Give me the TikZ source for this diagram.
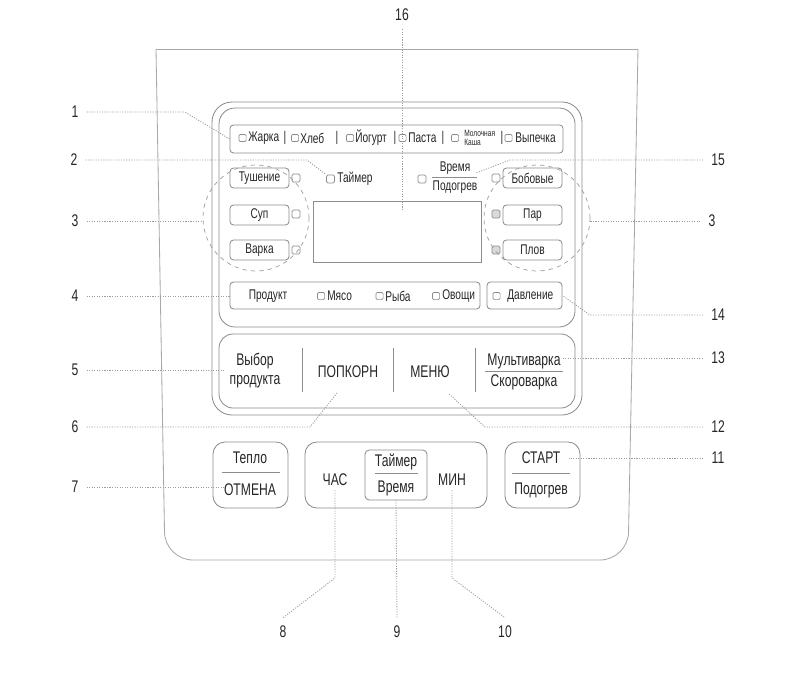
\documentclass[tikz,border=0pt]{standalone}
\usepackage{fontspec}
\setmainfont{Liberation Sans}[FakeStretch=0.72]
\usetikzlibrary{positioning}
\definecolor{panelgray}{HTML}{8C8C8C}
\definecolor{bodygray}{HTML}{A8A8A8}
\definecolor{leadgray}{HTML}{9C9C9C}
\definecolor{inkgray}{HTML}{262626}
\definecolor{ledgray}{HTML}{DADADA}

\begin{document}
\begin{tikzpicture}[x=0.025cm,y=-0.025cm,
	every node/.style={text=inkgray,font=\fontsize{10}{11}\selectfont},
	frame/.style={draw=panelgray,line width=0.6pt},
	btn/.style={frame,rectangle,rounded corners=2.5pt,inner sep=0pt,minimum width=1.475cm,minimum height=0.5cm},
	bigbtn/.style={frame,rectangle,rounded corners=0.3cm,inner sep=0pt,minimum width=1.875cm,minimum height=1.65cm},
	led/.style={draw=panelgray,line width=0.5pt,rectangle,rounded corners=1pt,inner sep=0pt,minimum size=0.2cm},
	ledon/.style={led,fill=ledgray},
	tick/.style={led,minimum size=0.18cm},
	lbl/.style={anchor=west,inner sep=0pt},
	big/.style={font=\fontsize{12}{13}\selectfont,inner sep=0pt},
	rule/.style={draw=panelgray,line width=0.6pt},
	num/.style={font=\fontsize{12}{14}\selectfont,inner sep=2mm},
	lead/.style={draw=leadgray,line width=0.6pt,dash pattern=on 0.8pt off 1pt}]
\useasboundingbox (0,0) rectangle (802,683);

% body of the cooker
\draw[draw=bodygray,line width=0.6pt] (156,49) -- (638,49);
\draw[draw=bodygray,line width=0.6pt,rounded corners=0.7cm] (156,49) -- (165,560) -- (628,560) -- (638,49);

% control panel
\draw[frame,rounded corners=0.5cm] (212,102) rectangle (582,415);
\draw[frame,rounded corners=0.4cm] (219,108) rectangle (575,327);
\draw[frame,rounded corners=0.35cm] (219,334) rectangle (575,408);

% programme row
\node[btn,minimum width=8.325cm,minimum height=0.7cm] (row1) at (396.5,139) {};
\node[tick] (kZh) at (242.5,138) {};  \node[lbl] (tZh) at (248,138) {Жарка};
\node (s1) at (285,138) {|};
\node[tick] (kKh) at (295,138) {};    \node[lbl] (tKh) at (300,138) {Хлеб};
\node (s2) at (337,138) {|};
\node[tick] (kYo) at (350,138) {};    \node[lbl] (tYo) at (355,138) {Йогурт};
\node (s3) at (395,138) {|};
\node[tick] (kPa) at (402.5,138) {};  \node[lbl] (tPa) at (408,138) {Паста};
\node (s4) at (443,138) {|};
\node[tick] (kMk) at (455,138) {};
\node[lbl,align=left,font=\fontsize{6.5}{6.5}\selectfont] (tMk) at (464,138) {Молочная\\Каша};
\node (s5) at (502,138) {|};
\node[tick] (kVy) at (508.5,138) {};  \node[lbl] (tVy) at (515,138) {Выпечка};

% left group
\node[btn] (tush) at (259.5,178) {Тушение};
\node[btn] (sup)  at (259.5,215) {Суп};
\node[btn] (vark) at (259.5,250) {Варка};
\node[led] (kTush) at (296,178) {};
\node[led] (kSup)  at (296,214) {};
\node[led] (kVark) at (296,250) {};
\node[circle,draw=leadgray,line width=0.5pt,dashed,minimum size=2.65cm] (grpL) at (256,218) {};

% right group
\node[btn] (bob)  at (532.5,178) {Бобовые};
\node[btn] (par)  at (532.5,215) {Пар};
\node[btn] (plov) at (532.5,250) {Плов};
\node[led]   (kBob)  at (496,178) {};
\node[ledon] (kPar)  at (496,214) {};
\node[ledon] (kPlov) at (496,250) {};
\node[circle,draw=leadgray,line width=0.5pt,dashed,minimum size=2.65cm] (grpR) at (537,218) {};

% timer, keep warm and display
\node[led] (kTaim) at (330.5,179) {};  \node[lbl] (tTaim) at (337,179) {Таймер};
\node[led] (kVrem) at (422,179) {};
\node[inner sep=0pt] (vr1) at (455,168) {Время};
\node[inner sep=0pt] (vr2) at (455,187) {Подогрев};
\draw[rule] (432,177) -- (477,177);
\node[rectangle,frame,minimum width=4.2cm,minimum height=1.525cm] (disp) at (397,231.5) {};

% product row
\node[btn,minimum width=6.25cm,minimum height=0.675cm] (prod) at (355,295.5) {};
\node (tProd) at (268,296) {Продукт};
\node[tick] (kMya) at (321,296) {};   \node[lbl] (tMya) at (327,296) {Мясо};
\node[tick] (kRyb) at (379.5,296) {}; \node[lbl] (tRyb) at (385,296) {Рыба};
\node[tick] (kOvo) at (436,296) {};   \node[lbl] (tOvo) at (442,296) {Овощи};
\node[btn,minimum width=1.875cm,minimum height=0.675cm] (dav) at (524.5,295.5) {};
\node[tick] (kDav) at (496.5,296) {}; \node[lbl] (tDav) at (507,296) {Давление};

% menu row
\node[big,align=center,font=\fontsize{12}{13.5}\selectfont] (vyb) at (255,371) {Выбор\\продукта};
\node[big] (pop) at (348,372) {ПОПКОРН};
\node[big] (menu) at (430,372) {МЕНЮ};
\node[big] (mv1) at (524,361) {Мультиварка};
\node[big] (mv2) at (524,382) {Скороварка};
\draw[rule] (485,371) -- (563,371);
\draw[rule] (302,348) -- (302,392);
\draw[rule] (393,348) -- (393,392);
\draw[rule] (475,348) -- (475,392);

% lower buttons
\node[bigbtn] (teplo) at (250.5,475) {};
\node[big] (tep1) at (250,458) {Тепло};
\node[big] (tep2) at (250,490) {ОТМЕНА};
\draw[rule] (222,472) -- (280,472);
\node[bigbtn,minimum width=4.55cm] (clock) at (396,475) {};
\node[big] (chas) at (335,480) {ЧАС};
\node[btn,minimum width=1.55cm,minimum height=1.25cm,rounded corners=3pt] (tbox) at (396,475) {};
\node[big] (tm1) at (396,462) {Таймер};
\node[big] (tm2) at (396,488) {Время};
\draw[rule] (375,473) -- (418,473);
\node[big] (mins) at (452,480) {МИН};
\node[bigbtn] (start) at (542.5,475) {};
\node[big] (st1) at (541,458) {СТАРТ};
\node[big] (st2) at (541,490) {Подогрев};
\draw[rule] (512,473) -- (570,473);

% numbers
\node[num] (n1)  at (75,112) {1};
\node[num] (n2)  at (74,160) {2};
\node[num] (n3)  at (75,221) {3};
\node[num] (n4)  at (75,296) {4};
\node[num] (n5)  at (75,370) {5};
\node[num] (n6)  at (75,427) {6};
\node[num] (n7)  at (75,487) {7};
\node[num] (n8)  at (283,632) {8};
\node[num] (n9)  at (397,632) {9};
\node[num] (n10) at (505,632) {10};
\node[num] (n11) at (718,458) {11};
\node[num] (n12) at (718,427) {12};
\node[num] (n13) at (718,358) {13};
\node[num] (n14) at (718,315) {14};
\node[num] (n15) at (718,160) {15};
\node[num] (n3r) at (712,221) {3};
\node[num] (n16) at (402,15) {16};

% leader bends
\coordinate (b1) at (185,112);
\coordinate (b2) at (307,160);
\coordinate (e5) at (225,370);
\coordinate (b6) at (310,427);
\coordinate (e6) at (337,393);
\coordinate (b8) at (335,578);
\coordinate (b10) at (452,578);
\coordinate (b12) at (485,427);
\coordinate (e12) at (448,393);
\coordinate (b14) at (590,315);
\coordinate (b15) at (510,160);
\coordinate (e15) at (476,173);
\coordinate (e16) at (402,210);

% leaders
\draw[lead] (n1.east) -- (b1) -- (row1.west);
\draw[lead] (n2.east) -- (b2) -- (kTaim.north west);
\draw[lead] (n3.east) -- (n3.east -| grpL.west);
\draw[lead] (n3r.west) -- (n3r.west -| grpR.east);
\draw[lead] (n4.east) -- (n4.east -| prod.west);
\draw[lead] (n5.east) -- (e5);
\draw[lead] (n6.east) -- (b6) -- (e6);
\draw[lead] (n7.east) -- (n7.east -| tep2.west);
\draw[lead] (chas.south) ++(0,4) -- (b8) -- (n8.north);
\draw[lead] (tm2.south) ++(0,4) -- (n9.north);
\draw[lead] (mins.south) ++(0,4) -- (b10) -- (n10.north);
\draw[lead] (n11.west) -- ([xshift=2mm]n11.west -| st1.east);
\draw[lead] (n12.west) -- (b12) -- (e12);
\draw[lead] (n13.west) -- ([xshift=0.5mm]n13.west -| mv1.east);
\draw[lead] (n14.west) -- (b14) -- (dav.east);
\draw[lead] (n15.west) -- (b15) -- (e15);
\draw[lead] (n16.south) -- (e16);
\end{tikzpicture}
\end{document}
